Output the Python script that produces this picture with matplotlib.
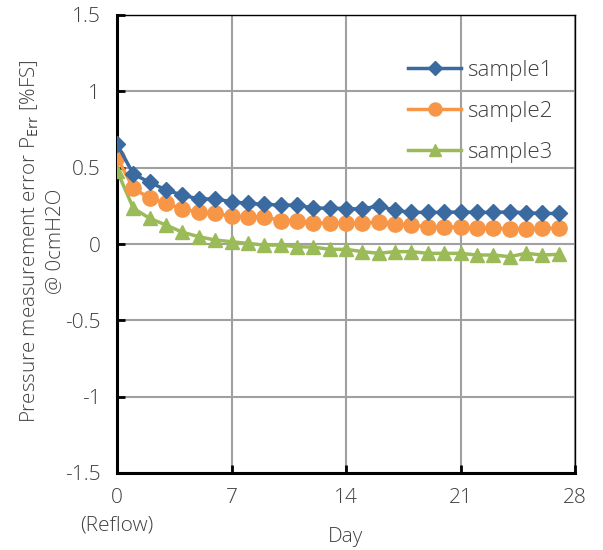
import matplotlib
matplotlib.use("Agg")
import matplotlib.pyplot as plt

days = list(range(28))
sample1 = [0.655, 0.458, 0.404, 0.354, 0.32, 0.295, 0.295, 0.277, 0.266, 0.26,
           0.255, 0.255, 0.235, 0.235, 0.232, 0.229, 0.25, 0.22, 0.207, 0.207,
           0.207, 0.21, 0.207, 0.207, 0.21, 0.205, 0.2, 0.2]
sample2 = [0.568, 0.365, 0.30, 0.266, 0.23, 0.208, 0.20, 0.183, 0.179, 0.179,
           0.153, 0.153, 0.136, 0.14, 0.137, 0.135, 0.146, 0.131, 0.124, 0.113,
           0.113, 0.109, 0.103, 0.103, 0.10, 0.10, 0.103, 0.103]
sample3 = [0.48, 0.234, 0.168, 0.124, 0.077, 0.048, 0.026, 0.015, 0.004, -0.007,
           -0.007, -0.018, -0.02, -0.035, -0.035, -0.05, -0.061, -0.05, -0.05, -0.061,
           -0.061, -0.061, -0.072, -0.072, -0.083, -0.061, -0.072, -0.068]
labels = ["sample1", "sample2", "sample3"]
xticks = [0, 7, 14, 21, 28]
xticklabels = ["0\n(Reflow)", "7", "14", "21", "28"]
yticks = [-1.5, -1, -0.5, 0, 0.5, 1, 1.5]
yticklabels = ["-1.5", "-1", "-0.5", "0", "0.5", "1", "1.5"]

plt.rcParams['font.family'] = ['Open Sans', 'DejaVu Sans']
plt.rcParams['mathtext.fontset'] = 'custom'
plt.rcParams['mathtext.rm'] = 'Open Sans'
text_color = '#404040'
fs = 15

fig = plt.figure(figsize=(6.03, 5.5), dpi=100)
ax = fig.add_axes([117/603, 1-473/550, (575-117)/603, (473-15)/550])

ax.plot(days, sample1, color='#3B6AA0', marker='D', markersize=8, lw=2.5, label=labels[0], zorder=5)
ax.plot(days, sample2, color='#F79646', marker='o', markersize=11, lw=2.5, label=labels[1], zorder=4)
ax.plot(days, sample3, color='#9BBB59', marker='^', markersize=10.5, lw=2.5, label=labels[2], zorder=3)

ax.set_xlim(0, 28)
ax.set_ylim(-1.5, 1.5)
ax.set_xticks(xticks)
ax.set_xticklabels(xticklabels, color=text_color, fontsize=fs, fontweight='light', linespacing=1.5)
ax.set_yticks(yticks)
ax.set_yticklabels(yticklabels, color=text_color, fontsize=fs, fontweight='light')
ax.grid(True, color='#a0a0a0', lw=1.5)
ax.set_axisbelow(True)
ax.tick_params(axis='y', direction='in', length=6, width=2, color='black', pad=12)
ax.tick_params(axis='x', direction='in', length=6, width=2, color='black', pad=11)
for s in ['left', 'bottom']:
    ax.spines[s].set_linewidth(2.2)
for s in ['top', 'right']:
    ax.spines[s].set_linewidth(1.0)

ax.set_xlabel("Day", color=text_color, fontsize=fs, fontweight='light')
ax.xaxis.set_label_coords((346-117)/458, (473-537)/458)
ax.xaxis.label.set_verticalalignment('center')
ax.set_ylabel("Pressure measurement error P$_{\\mathrm{Err}}$ [%FS]\n@ 0cmH2O",
              color=text_color, fontsize=14.8, fontweight='light', linespacing=1.3)
ax.yaxis.set_label_coords((42-117)/458, 0.505)
ax.yaxis.label.set_verticalalignment('center')

leg = fig.legend(loc='upper left', bbox_to_anchor=(408/603, 1-60/550), frameon=False,
                 prop={'size': 16, 'weight': 'light'}, borderpad=0, borderaxespad=0,
                 handlelength=2.4, handletextpad=0.25, labelspacing=0.9,
                 markerscale=0.85)
for t in leg.get_texts():
    t.set_color(text_color)

fig.savefig("out.png", dpi=100, facecolor='white')
